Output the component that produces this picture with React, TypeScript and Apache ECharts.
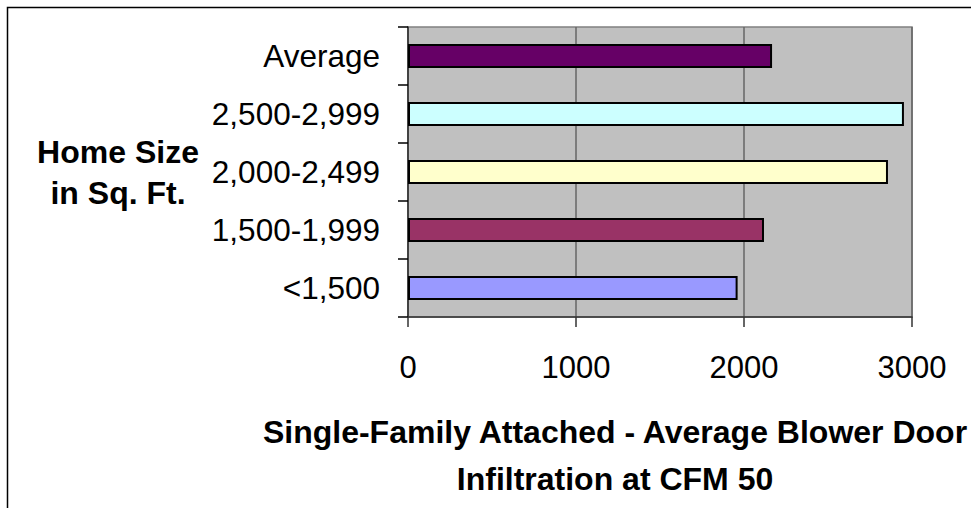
import React, { useEffect, useRef } from "react";
import * as echarts from "echarts";

const categories = ["<1,500", "1,500-1,999", "2,000-2,499", "2,500-2,999", "Average"];
const values = [1962, 2119, 2857, 2952, 2167];
const barColors = ["#9999FF", "#993366", "#FFFFCC", "#CCFFFF", "#660066"];
const xTicks = [0, 1000, 2000, 3000];
const yAxisTitle = ["Home Size", "in Sq. Ft."];
const xAxisTitle = ["Single-Family Attached - Average Blower Door", "Infiltration at CFM 50"];

const FONT = "'Liberation Sans', Arial, sans-serif";

export default function App() {
  const ref = useRef<HTMLDivElement>(null);
  useEffect(() => {
    if (!ref.current) return;
    const chart = echarts.init(ref.current, null, { renderer: "svg" });
    chart.setOption({
      animation: false,
      backgroundColor: "#ffffff",
      grid: {
        left: 408,
        right: 59,
        top: 27,
        bottom: 191,
        show: true,
        backgroundColor: "#C0C0C0",
        borderColor: "#808080",
        borderWidth: 1.5,
      },
      xAxis: {
        type: "value",
        min: xTicks[0],
        max: xTicks[xTicks.length - 1],
        interval: 1000,
        axisLine: { show: true, lineStyle: { color: "#333333", width: 1.5 } },
        axisTick: { show: true, length: 10, lineStyle: { color: "#333333", width: 1.5 } },
        splitLine: { show: true, lineStyle: { color: "#666666", width: 1.5 } },
        axisLabel: {
          color: "#000",
          fontFamily: FONT,
          fontSize: 31,
          margin: 35,
          formatter: (v: number) => String(v),
        },
      },
      yAxis: {
        type: "category",
        data: categories,
        axisLine: { show: true, lineStyle: { color: "#333333", width: 1.5 } },
        axisTick: { show: true, length: 10, alignWithLabel: false, lineStyle: { color: "#000", width: 1.5 } },
        splitLine: { show: false },
        axisLabel: {
          color: "#000",
          fontFamily: FONT,
          fontSize: 31.5,
          margin: 28,
        },
      },
      series: [
        {
          type: "bar",
          barWidth: 24,
          data: values.map((v, i) => ({
            value: v,
            itemStyle: { color: barColors[i], borderColor: "#000", borderWidth: 2 },
          })),
        },
      ],
      graphic: [
        {
          type: "rect",
          shape: { x: 7.5, y: 7.5, width: 1200, height: 700 },
          style: { fill: "none", stroke: "#000", lineWidth: 1.5 },
          silent: true,
          z: 100,
        },
        {
          type: "text",
          x: 118,
          y: 172,
          style: {
            text: yAxisTitle.join("\n"),
            fontFamily: FONT,
            fontSize: 32,
            fontWeight: "bold",
            fill: "#000",
            align: "center",
            verticalAlign: "middle",
            lineHeight: 41,
          },
        },
        {
          type: "text",
          x: 615,
          y: 455,
          style: {
            text: xAxisTitle.join("\n"),
            fontFamily: FONT,
            fontSize: 32,
            fontWeight: "bold",
            fill: "#000",
            align: "center",
            verticalAlign: "middle",
            lineHeight: 47,
          },
        },
      ],
    });
    return () => chart.dispose();
  }, []);
  return (
    <div
      ref={ref}
      style={{ position: "fixed", left: 0, top: 0, width: 971, height: 508 }}
    />
  );
}
